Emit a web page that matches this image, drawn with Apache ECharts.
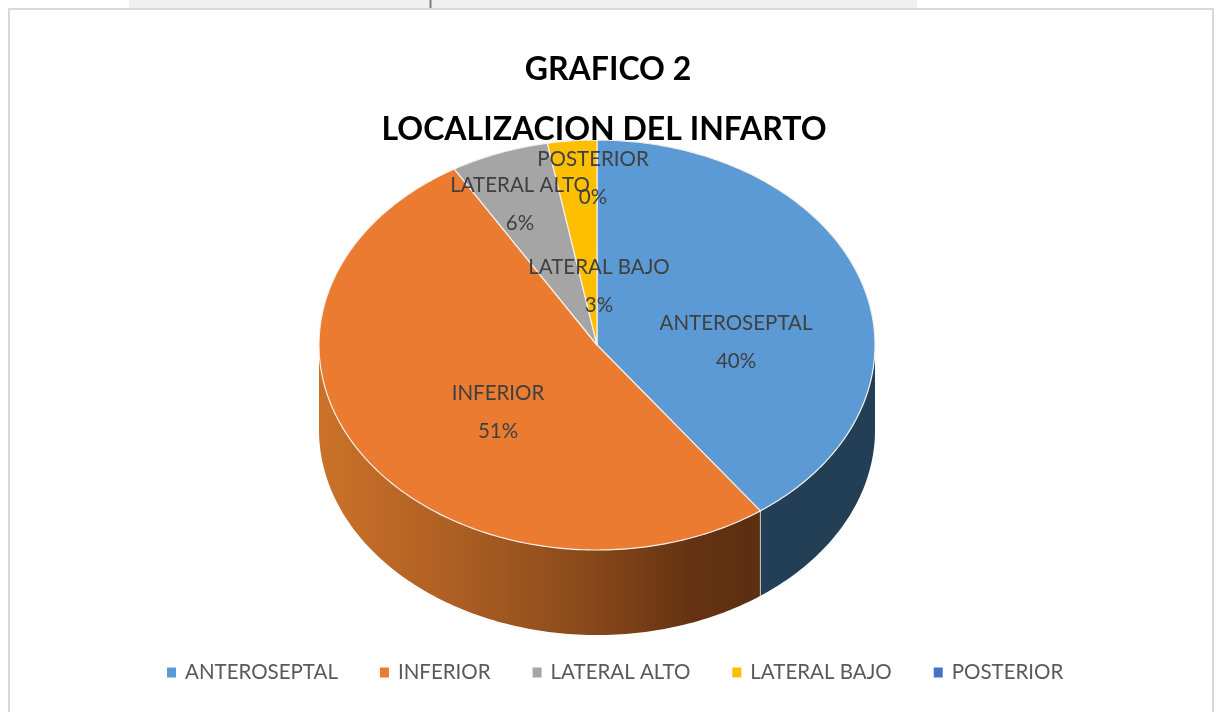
<!DOCTYPE html>
<html>
<head>
<meta charset="utf-8">
<script src="https://cdn.jsdelivr.net/npm/echarts@6/dist/echarts.min.js"></script>
<style>html,body{margin:0;padding:0;background:#fff}#c{width:1216px;height:712px}</style>
</head>
<body>
<div id="c"></div>
<script>
const categories = ['ANTEROSEPTAL', 'INFERIOR', 'LATERAL ALTO', 'LATERAL BAJO', 'POSTERIOR'];
const cases = [14, 18, 2, 1, 0];
const titleLines = ['GRAFICO 2', 'LOCALIZACION DEL INFARTO'];

const titleCenters = [608, 604];
const titleTops = [54, 114];
const sliceColors = ['#5b9ad5', '#ea7b30', '#a5a5a5', '#fdbf00', '#4472c4'];
const labelCenters = [[736, 342], [498, 412], [520, 204], [599, 286], [593, 178]];
const PIE = { cx: 597, cy: 345, rx: 278, ry: 205, depth: 85 };
const FONT = 'Lato';

const total = cases.reduce((a, b) => a + b, 0);
const rimPoint = (deg, dy) => {
  const r = deg * Math.PI / 180;
  return [PIE.cx + PIE.rx * Math.sin(r), PIE.cy - PIE.ry * Math.cos(r) + dy];
};
const arc = (a0, a1, dy) => {
  const n = Math.max(1, Math.ceil(Math.abs(a1 - a0) / 1));
  const pts = [];
  for (let i = 0; i <= n; i++) pts.push(rimPoint(a0 + (a1 - a0) * i / n, dy));
  return pts;
};
const wallFill = i => i === 0 ? '#233f55' : {
  type: 'linear', x: PIE.cx - PIE.rx, y: 0, x2: 760, y2: 0, global: true,
  colorStops: [
    { offset: 0, color: '#cb7229' }, { offset: 0.3, color: '#ae5f24' },
    { offset: 0.6, color: '#8a4a1b' }, { offset: 0.85, color: '#643212' }, { offset: 1, color: '#5c2f10' }
  ]
};

function sliceRenderer(i) {
  const before = cases.slice(0, i).reduce((a, b) => a + b, 0);
  return function (params, api) {
    const value = api.value(0);
    const a0 = before / total * 360;
    const a1 = (before + value) / total * 360;
    const children = [];
    const wa0 = Math.max(a0, 90), wa1 = Math.min(a1, 270);
    if (value > 0 && wa1 > wa0) {
      children.push({
        type: 'polygon',
        shape: { points: arc(wa0, wa1, 0).concat(arc(wa1, wa0, PIE.depth)) },
        style: { fill: wallFill(i) }
      });
      if (a0 > 90 && a0 < 270) {
        children.push({
          type: 'line',
          shape: { x1: rimPoint(a0, 0)[0], y1: rimPoint(a0, 0)[1], x2: rimPoint(a0, PIE.depth)[0], y2: rimPoint(a0, PIE.depth)[1] },
          style: { stroke: '#c9c4bd', lineWidth: 1 }, z2: 2
        });
      }
    }
    if (value > 0) {
      children.push({
        type: 'polygon',
        shape: { points: [[PIE.cx, PIE.cy]].concat(arc(a0, a1, 0)) },
        style: { fill: sliceColors[i], stroke: '#f4efe9', lineWidth: 1.2, lineJoin: 'round' },
        z2: 5
      });
    }
    const pct = Math.round(value / total * 100) + '%';
    const [lx, ly] = labelCenters[i];
    children.push({
      type: 'text', z2: 100,
      style: { x: lx, y: ly, text: categories[i] + '\n' + pct, align: 'center', verticalAlign: 'middle',
        font: '400 20.5px ' + FONT, lineHeight: 38, fill: '#404040' }
    });
    return { type: 'group', children };
  };
}

const option = {
  animation: false,
  backgroundColor: '#ffffff',
  title: titleLines.map((text, i) => ({
    text, left: titleCenters[i], top: titleTops[i], textAlign: 'center', padding: 0,
    textStyle: { fontFamily: FONT, fontWeight: 'bold', fontSize: 32, color: '#000000' }
  })),
  legend: {
    data: categories, left: 167, top: 662, padding: 0, icon: 'rect', itemWidth: 9, itemHeight: 10, itemGap: 42,
    textStyle: { fontFamily: FONT, fontSize: 20.5, color: '#595959', padding: [0, 0, 0, 4] },
    selectedMode: false
  },
  graphic: [
    { type: 'rect', shape: { x: 129, y: 0, width: 788, height: 8 }, style: { fill: '#f0f0f0' }, silent: true },
    { type: 'rect', shape: { x: 429.5, y: 0, width: 2, height: 8 }, style: { fill: '#808080' }, silent: true },
    { type: 'rect', shape: { x: 9, y: 9, width: 1204, height: 720 }, style: { fill: 'none', stroke: '#d9d9d9', lineWidth: 2 }, silent: true }
  ],
  series: categories.map((name, i) => ({
    type: 'custom', name, coordinateSystem: 'none', silent: true,
    itemStyle: { color: sliceColors[i] },
    data: [[cases[i]]],
    encode: { value: 0 },
    renderItem: sliceRenderer(i)
  }))
};
echarts.init(document.getElementById('c')).setOption(option);
</script>
</body>
</html>
